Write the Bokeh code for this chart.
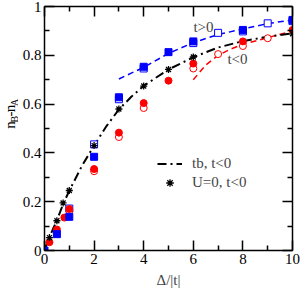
from bokeh.plotting import figure
from bokeh.layouts import row
from bokeh.models import (LinearAxis, FixedTicker, Range1d, Legend, LegendItem,
                          Label, ColumnDataSource)
from bokeh.embed import file_html
from bokeh.resources import INLINE
from bokeh.core.properties import value
import math

# ---------------- data ----------------
# t>0, filled blue squares
blue_f_x = [0, 0.5, 1, 2, 3, 4, 5, 6, 8, 10]
blue_f_y = [0, 0.067, 0.138, 0.384, 0.628, 0.753, 0.813, 0.857, 0.904, 0.945]
# t>0, open blue squares
blue_o_x = [1, 2, 3, 4, 6, 7, 8, 9, 10]
blue_o_y = [0.172, 0.435, 0.62, 0.746, 0.850, 0.892, 0.898, 0.931, 0.94]
# t<0, filled red circles
red_f_x = [0.2, 0.5, 0.8, 1, 2, 3, 4, 5, 6, 8, 10]
red_f_y = [0.034, 0.086, 0.135, 0.17, 0.334, 0.483, 0.604, 0.696, 0.766, 0.857, 0.904]
# t<0, open red circles
red_o_x = [1, 2, 3, 4, 6, 7, 8, 9]
red_o_y = [0.162, 0.325, 0.465, 0.584, 0.746, 0.805, 0.838, 0.870]
# U=0, t<0 stars
star_x = [0.2, 0.5, 0.75, 1, 2, 3, 4, 5, 6, 10]
star_y = [0.053, 0.122, 0.195, 0.246, 0.43, 0.58, 0.674, 0.742, 0.793, 0.888]
# tb, t<0 dash-dot curve
tb_x = [0, 0.1, 0.2, 0.35, 0.5, 0.75, 1, 1.5, 2, 2.5, 3, 3.5, 4, 5, 6, 7, 8, 9, 10]
tb_y = [0, 0.03, 0.055, 0.09, 0.123, 0.19, 0.245, 0.345, 0.43, 0.51, 0.578, 0.63,
        0.675, 0.742, 0.792, 0.832, 0.858, 0.876, 0.89]
# fit curves
fit_pos_x = [3, 3.5, 4, 5, 6, 7, 8, 9, 10]
fit_pos_y = [0.703, 0.727, 0.75, 0.808, 0.852, 0.885, 0.908, 0.93, 0.945]
fit_neg_x = [6, 6.5, 7, 7.5, 8, 9, 10]
fit_neg_y = [0.70, 0.76, 0.80, 0.825, 0.845, 0.872, 0.90]

x_ticks = [0, 2, 4, 6, 8, 10]
x_tick_labels = ["0", "2", "4", "6", "8", "10"]
x_minor = [1, 3, 5, 7, 9]
y_ticks = [0, 0.2, 0.4, 0.6, 0.8, 1.0]
y_tick_labels = ["0", "0.2", "0.4", "0.6", "0.8", "1"]
y_minor = [0.1, 0.3, 0.5, 0.7, 0.9]

# y-axis title pieces: n_B - n_A
ylab_text = ["n", "B", "-", "n", "A"]
ylab_size = ["15px", "10px", "15px", "15px", "10px"]
ylab_sub = [False, True, False, False, True]
ylab_len = [7.5, 7.0, 5.0, 7.5, 7.5]

FONT = "Liberation Serif"
BLUE = "#0000ff"
RED = "#ff0000"

# ---------------- main figure ----------------
p = figure(width=282, height=290, output_backend="svg", toolbar_location=None,
           x_range=Range1d(0, 10), y_range=Range1d(0, 1),
           min_border_left=26, min_border_right=8, min_border_top=6,
           min_border_bottom=38, x_axis_label="Δ/|t|")
p.xgrid.visible = False
p.ygrid.visible = False
p.outline_line_color = None


def style_axis(ax, ticks, minor, labels, show_labels=True):
    ax.ticker = FixedTicker(ticks=ticks, minor_ticks=minor)
    ax.major_tick_in = 10
    ax.major_tick_out = 0
    ax.minor_tick_in = 5
    ax.minor_tick_out = 0
    ax.axis_line_width = 1.5
    ax.major_tick_line_width = 1.5
    ax.minor_tick_line_width = 1.5
    ax.axis_line_color = "black"
    if show_labels:
        ax.major_label_overrides = {t: l for t, l in zip(ticks, labels)}
        ax.major_label_text_font = FONT
        ax.major_label_text_font_size = "15px"
        ax.major_label_text_color = "black"
        ax.major_label_standoff = 3
    else:
        ax.major_label_text_font_size = "0px"
        ax.major_label_text_color = None
        ax.major_label_standoff = 0


style_axis(p.xaxis[0], x_ticks, x_minor, x_tick_labels)
style_axis(p.yaxis[0], y_ticks, y_minor, y_tick_labels)
p.xaxis[0].axis_label_text_font = FONT
p.xaxis[0].axis_label_text_font_size = "15px"
p.xaxis[0].axis_label_text_font_style = "normal"
p.xaxis[0].axis_label_standoff = 5

top_ax = LinearAxis()
style_axis(top_ax, x_ticks, x_minor, x_tick_labels, show_labels=False)
p.add_layout(top_ax, "above")
right_ax = LinearAxis()
style_axis(right_ax, y_ticks, y_minor, y_tick_labels, show_labels=False)
p.add_layout(right_ax, "right")

# lines
p.line(fit_pos_x, fit_pos_y, line_color=BLUE, line_width=1.5, line_dash="6 4")
p.line(fit_neg_x, fit_neg_y, line_color=RED, line_width=1.5, line_dash="6 4")
tb = p.line(tb_x, tb_y, line_color="black", line_width=2, line_dash="9 4 2 4")

# markers
p.scatter(blue_o_x, blue_o_y, marker="square", size=7, fill_color="white",
          line_color=BLUE, line_width=1)
p.scatter(red_o_x, red_o_y, marker="circle", size=7, fill_color="white",
          line_color=RED, line_width=1)
p.scatter(red_f_x, red_f_y, marker="circle", size=7, fill_color=RED,
          line_color=RED)
p.scatter(blue_f_x, blue_f_y, marker="square", size=7, fill_color=BLUE,
          line_color=BLUE)
stars = p.scatter(star_x, star_y, marker="asterisk", size=7, line_color="black",
                  line_width=1.3)

# annotations
p.add_layout(Label(x=6.41, y=0.914, text="t>0", text_font=FONT,
                   text_font_size="15px", text_align="center",
                   text_baseline="middle"))
p.add_layout(Label(x=7.78, y=0.785, text="t<0", text_font=FONT,
                   text_font_size="15px", text_align="center",
                   text_baseline="middle"))

legend = Legend(items=[LegendItem(label="tb, t<0", renderers=[tb]),
                       LegendItem(label="U=0, t<0", renderers=[stars])],
                location=(113, 58), glyph_width=25, glyph_height=19,
                label_height=19, label_standoff=10, spacing=0, padding=0,
                margin=0, border_line_color=None, background_fill_alpha=0,
                label_text_font=FONT, label_text_font_size="15px")
p.add_layout(legend)

# ---------------- y-axis title strip ----------------
q = figure(width=18, height=290, output_backend="svg", toolbar_location=None,
           x_range=Range1d(0, 18), y_range=Range1d(0, 290),
           min_border=0, x_axis_location=None, y_axis_location=None)
q.xgrid.visible = False
q.ygrid.visible = False
q.outline_line_color = None

ys = []
cur = 162 - sum(ylab_len) / 2
for w in ylab_len:
    ys.append(cur)
    cur += w
xs = [13.5 if s else 9 for s in ylab_sub]
src = ColumnDataSource(dict(x=xs, y=ys, text=ylab_text, size=ylab_size))
q.text(x="x", y="y", text="text", source=src, angle=math.pi / 2,
       text_font=value(FONT), text_font_size="size", text_align="left",
       text_baseline="alphabetic", text_color="black")

layout = row(q, p, spacing=0)
open("out.html", "w").write(file_html(layout, INLINE))
